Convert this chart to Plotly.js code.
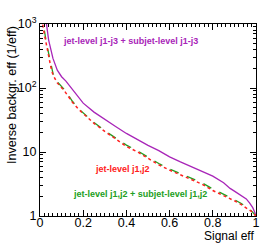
<!DOCTYPE html>
<html>
<head>
<meta charset="utf-8">
<script src="https://cdn.plot.ly/plotly-3.0.1.min.js"></script>
<style>html,body{margin:0;padding:0;background:#fff;}#chart{width:266px;height:243px;}</style>
</head>
<body>
<div id="chart"></div>
<script>
// Signal efficiency vs inverse background efficiency
const purpleSig = [0.02,0.03,0.04,0.05,0.06,0.08,0.10,0.12,0.14,0.16,0.18,0.20,0.25,0.30,0.35,0.40,0.45,0.50,0.55,0.60,0.65,0.70,0.75,0.80,0.85,0.88,0.90,0.93,0.955,0.97,0.985,0.995,1.0];
const purpleInv = [1500,1000,560,390,290,190,150,128,105,85,68,58,42,32,25,19.5,15.5,12.7,10.5,8.4,7.0,5.9,5.0,4.2,3.3,2.7,2.45,2.1,1.85,1.6,1.35,1.12,1.0];

const greenSig = [0.01,0.015,0.02,0.03,0.04,0.05,0.06,0.08,0.10,0.11,0.13,0.15,0.18,0.20,0.23,0.25,0.30,0.35,0.40,0.45,0.50,0.55,0.60,0.65,0.70,0.75,0.80,0.85,0.90,0.93,0.96,0.98,1.0];
const greenInv = [1500,1000,800,500,340,230,170,125,105,97,78,62,47,41,33,29,21.5,16.5,12.8,10.5,8.3,6.6,5.4,4.6,3.85,3.3,2.65,2.2,1.8,1.58,1.36,1.19,1.0];

const redSig = [0.008,0.012,0.02,0.03,0.04,0.05,0.06,0.08,0.10,0.11,0.13,0.15,0.18,0.20,0.23,0.25,0.30,0.35,0.40,0.45,0.50,0.55,0.60,0.65,0.70,0.75,0.80,0.85,0.90,0.93,0.96,0.98,1.0];
const redInv = [1500,1000,700,450,310,215,160,120,101,93,75,60,46,40,32,28,21,16,12.2,10.1,8.0,6.3,5.2,4.4,3.7,3.15,2.5,2.1,1.73,1.52,1.32,1.17,1.0];

const xTickVals = [0,0.2,0.4,0.6,0.8,1];
const xTickText = ["0","0.2","0.4","0.6","0.8","1"];
const yTickVals = [1,10,100,1000];
const yTickText = ["1","10","10<sup>2</sup>","10<sup>3</sup>"];
const yMinorVals = [2,3,4,5,6,7,8,9,20,30,40,50,60,70,80,90,200,300,400,500,600,700,800,900];

const labelPurple = "jet-level j1-j3 + subjet-level j1-j3";
const labelRed = "jet-level j1,j2";
const labelGreen = "jet-level j1,j2 + subjet-level j1,j2";

const cPurple = "#a825b8", cRed = "#ff2020", cGreen = "#22a022";
const FONT = "Liberation Sans, Arial, Helvetica, sans-serif";

const traces = [
  {x: purpleSig, y: purpleInv, mode: "lines", line: {color: cPurple, width: 1.3}, hoverinfo: "skip"},
  {x: greenSig, y: greenInv, mode: "lines", line: {color: cGreen, width: 1.3, dash: "dash"}, hoverinfo: "skip"},
  {x: redSig, y: redInv, mode: "lines", line: {color: cRed, width: 1.5, dash: "dot"}, hoverinfo: "skip"}
];

const layout = {
  width: 266, height: 243,
  margin: {l: 40, r: 10, t: 24, b: 27, pad: 0},
  paper_bgcolor: "#fff", plot_bgcolor: "#fff",
  showlegend: false,
  font: {family: FONT, size: 13, color: "#000"},
  xaxis: {
    range: [0, 1], tickmode: "array", tickvals: xTickVals, ticktext: xTickText,
    ticks: "inside", ticklen: 6, tickcolor: "#000", tickwidth: 1,
    showline: true, linecolor: "#000", linewidth: 1, mirror: "ticks",
    showgrid: false, zeroline: false, ticklabelstandoff: -5,
    tickfont: {family: FONT, size: 12.5, color: "#000"},
    minor: {dtick: 0.02, ticks: "inside", ticklen: 3, tickcolor: "#000", showgrid: false}
  },
  yaxis: {
    type: "log", range: [0, 3], tickmode: "array", tickvals: yTickVals, ticktext: yTickText,
    ticks: "inside", ticklen: 6, tickcolor: "#000", tickwidth: 1,
    showline: true, linecolor: "#000", linewidth: 1, mirror: "ticks",
    showgrid: false, zeroline: false,
    tickfont: {family: FONT, size: 12.5, color: "#000"},
    minor: {tickmode: "array", tickvals: yMinorVals, ticks: "inside", ticklen: 3, tickcolor: "#000", showgrid: false}
  },
  annotations: [
    {text: "Inverse backgr. eff (1/eff)", xref: "paper", yref: "paper", x: -0.13, y: 0.63, textangle: -90,
     xanchor: "center", yanchor: "middle", showarrow: false, font: {family: FONT, size: 12.5, color: "#000"}},
    {text: "Signal eff", xref: "paper", yref: "paper", x: 1, y: -0.102, xanchor: "right", yanchor: "middle",
     showarrow: false, font: {family: FONT, size: 12, color: "#000"}},
    {text: "<b>" + labelPurple + "</b>", xref: "paper", yref: "paper", x: 0.417, y: 0.911, xanchor: "center", yanchor: "middle",
     showarrow: false, font: {family: FONT, size: 9, color: cPurple}},
    {text: "<b>" + labelRed + "</b>", xref: "paper", yref: "paper", x: 0.38, y: 0.245, xanchor: "center", yanchor: "middle",
     showarrow: false, font: {family: FONT, size: 9, color: cRed}},
    {text: "<b>" + labelGreen + "</b>", xref: "paper", yref: "paper", x: 0.463, y: 0.115, xanchor: "center", yanchor: "middle",
     showarrow: false, font: {family: FONT, size: 9, color: cGreen}}
  ]
};

Plotly.newPlot("chart", traces, layout, {staticPlot: true, displayModeBar: false});
</script>
</body>
</html>
